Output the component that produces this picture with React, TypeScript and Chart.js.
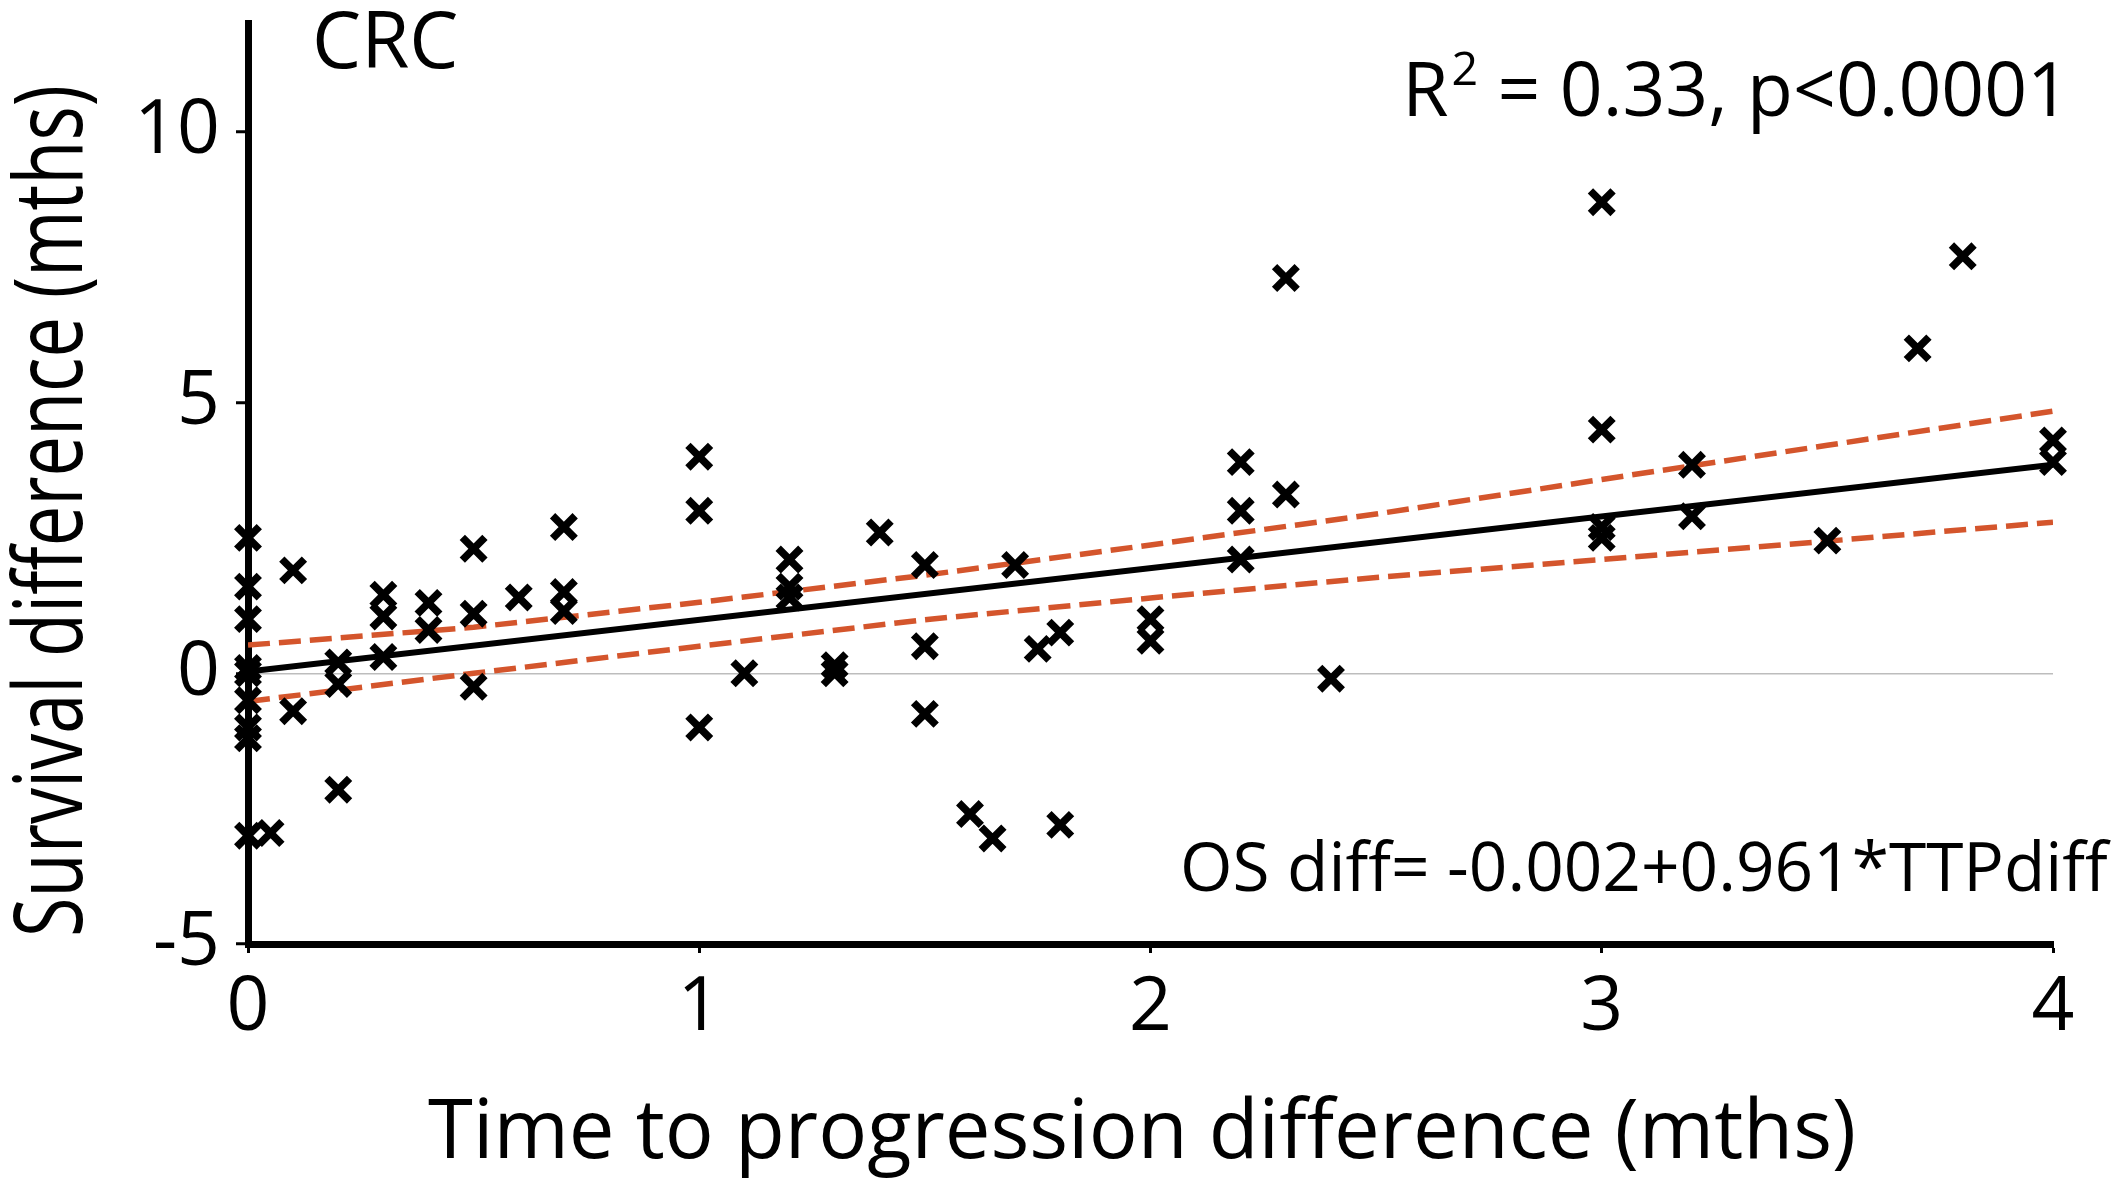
import React, { useEffect, useRef } from "react";
import { Chart, registerables } from "chart.js";

Chart.register(...registerables);

// ---- data ----
const ttpDiff = [
  0, 0, 0, 0, 0, 0, 0, 0, 0,
  0.05,
  0.1, 0.1,
  0.2, 0.2, 0.2,
  0.3, 0.3, 0.3,
  0.4, 0.4,
  0.5, 0.5, 0.5,
  0.6,
  0.7, 0.7, 0.7,
  1.0, 1.0, 1.0,
  1.1,
  1.2, 1.2, 1.2,
  1.3, 1.3,
  1.4,
  1.5, 1.5, 1.5,
  1.6, 1.65,
  1.7,
  1.75, 1.8, 1.8,
  2.0, 2.0,
  2.2, 2.2, 2.2,
  2.3, 2.3,
  2.4,
  3.0, 3.0, 3.0, 3.0,
  3.2, 3.2,
  3.5,
  3.7,
  3.8,
  4.0, 4.0,
];
const osDiff = [
  2.5, 1.6, 1.0, 0.1, 0.0, -0.5, -1.0, -1.2, -3.0,
  -2.95,
  1.9, -0.7,
  0.2, -0.2, -2.15,
  1.45, 1.05, 0.3,
  1.3, 0.8,
  2.3, 1.1, -0.25,
  1.4,
  2.7, 1.5, 1.15,
  4.0, 3.0, -1.0,
  0.0,
  2.1, 1.6, 1.4,
  0.15, 0.0,
  2.6,
  2.0, 0.5, -0.75,
  -2.6, -3.05,
  2.0,
  0.45, 0.75, -2.8,
  1.0, 0.6,
  3.9, 3.0, 2.1,
  7.3, 3.3,
  -0.1,
  8.7, 4.5, 2.7, 2.5,
  3.85, 2.9,
  2.45,
  6.0,
  7.7,
  4.3, 3.9,
];
const fitX = [0, 4];
const fitY = [0.03, 3.85];
const bandX = [0, 0.5, 1, 1.5, 2, 2.5, 3, 3.5, 4];
const bandUpper = [0.52, 0.85, 1.31, 1.81, 2.37, 2.94, 3.58, 4.21, 4.84];
const bandLower = [-0.52, 0.0, 0.5, 0.99, 1.39, 1.77, 2.1, 2.44, 2.79];
const xTicks = [0, 1, 2, 3, 4];
const yTicks = [-5, 0, 5, 10];
const X_MIN = 0;
const X_MAX = 4;
const Y_MIN = -5;
const Y_MAX = 12;

const panelLabel = "CRC";
const statsParts = ["R", "2", " = 0.33, p<0.0001"];
const equationLabel = "OS diff= -0.002+0.961*TTPdiff";
const xTitle = "Time to progression difference (mths)";
const yTitle = "Survival difference (mths)";

// ---- style ----
const FONT = "'Open Sans', 'Noto Sans', sans-serif";
const ORANGE = "#D4552C";
const W = 2112;
const H = 1178;

function fitSize(ctx: CanvasRenderingContext2D, text: string, width: number) {
  ctx.font = `100px ${FONT}`;
  return (100 * width) / ctx.measureText(text).width;
}

const textPlugin = {
  id: "texts",
  afterDraw(chart: any) {
    const ctx: CanvasRenderingContext2D = chart.ctx;
    ctx.save();
    ctx.fillStyle = "#000";
    ctx.textBaseline = "alphabetic";

    // Y title (rotated)
    const ys = fitSize(ctx, yTitle, 852);
    ctx.save();
    ctx.translate(82, 511);
    ctx.rotate(-Math.PI / 2);
    ctx.scale(1, 68 / (0.714 * ys));
    ctx.font = `${ys}px ${FONT}`;
    ctx.textAlign = "center";
    ctx.fillText(yTitle, 0, 0);
    ctx.restore();

    // X title
    const xs = fitSize(ctx, xTitle, 1428);
    ctx.font = `${xs}px ${FONT}`;
    ctx.textAlign = "center";
    ctx.fillText(xTitle, 1142, 1158);

    // Panel label
    ctx.font = `78px ${FONT}`;
    ctx.textAlign = "left";
    ctx.fillText(panelLabel, 312, 68);

    // R^2 statement, right-aligned
    const rs = 75;
    const sup = rs * 0.62;
    ctx.font = `${rs}px ${FONT}`;
    const w0 = ctx.measureText(statsParts[0]).width;
    const w2 = ctx.measureText(statsParts[2]).width;
    ctx.font = `${sup}px ${FONT}`;
    const w1 = ctx.measureText(statsParts[1]).width;
    let sx = 2070 - (w0 + w1 + 3 + w2);
    ctx.textAlign = "left";
    ctx.font = `${rs}px ${FONT}`;
    ctx.fillText(statsParts[0], sx, 116);
    sx += w0;
    ctx.font = `${sup}px ${FONT}`;
    ctx.fillText(statsParts[1], sx + 3, 116 - rs * 0.42);
    sx += w1 + 3;
    ctx.font = `${rs}px ${FONT}`;
    ctx.fillText(statsParts[2], sx, 116);

    // Equation
    const es = fitSize(ctx, equationLabel, 928);
    ctx.font = `${es}px ${FONT}`;
    ctx.textAlign = "left";
    ctx.fillText(equationLabel, 1180, 891);

    ctx.restore();
  },
};

export default function App() {
  const ref = useRef<HTMLCanvasElement>(null);

  useEffect(() => {
    const canvas = ref.current;
    if (!canvas) return;
    const points = ttpDiff.map((x, i) => ({ x, y: osDiff[i] }));
    const fit = fitX.map((x, i) => ({ x, y: fitY[i] }));
    const upper = bandX.map((x, i) => ({ x, y: bandUpper[i] }));
    const lower = bandX.map((x, i) => ({ x, y: bandLower[i] }));

    const chart = new Chart(canvas, {
      type: "scatter",
      data: {
        datasets: [
          {
            label: "Trials",
            data: points,
            pointStyle: "crossRot",
            pointRadius: 16,
            pointBorderWidth: 7.5,
            pointBorderColor: "#000",
            pointBackgroundColor: "#000",
            borderColor: "#000",
            backgroundColor: "#000",
            showLine: false,
            clip: false,
          } as any,
          {
            label: "Fit",
            data: fit,
            showLine: true,
            borderColor: "#000",
            borderWidth: 6,
            pointRadius: 0,
            tension: 0,
          } as any,
          {
            label: "Upper 95% CI",
            data: upper,
            showLine: true,
            borderColor: ORANGE,
            borderWidth: 5.5,
            borderDash: [22, 9],
            pointRadius: 0,
            tension: 0,
          } as any,
          {
            label: "Lower 95% CI",
            data: lower,
            showLine: true,
            borderColor: ORANGE,
            borderWidth: 5.5,
            borderDash: [22, 9],
            pointRadius: 0,
            tension: 0,
          } as any,
        ],
      },
      options: {
        responsive: false,
        animation: false,
        devicePixelRatio: 1,
        layout: { padding: { top: 19, right: 59, left: 0, bottom: 0 } },
        plugins: {
          legend: { display: false },
          tooltip: { enabled: false },
        },
        scales: {
          x: {
            type: "linear",
            min: X_MIN,
            max: X_MAX,
            afterFit: (s: any) => {
              s.height = H - 944;
              s.paddingLeft = 0;
              s.paddingRight = 0;
            },
            afterBuildTicks: (s: any) => {
              s.ticks = xTicks.map((v) => ({ value: v }));
            },
            border: { display: true, color: "#000", width: 7 },
            grid: {
              drawOnChartArea: false,
              drawTicks: true,
              tickLength: 9,
              tickWidth: 3,
              tickColor: "#000",
            },
            ticks: {
              color: "#000",
              padding: 11,
              font: { family: FONT, size: 75 },
              callback: (v: any) => String(v),
            },
          },
          y: {
            type: "linear",
            min: Y_MIN,
            max: Y_MAX,
            afterFit: (s: any) => {
              s.width = 248;
              s.paddingTop = 0;
              s.paddingBottom = 0;
            },
            afterBuildTicks: (s: any) => {
              s.ticks = yTicks.map((v) => ({ value: v }));
            },
            border: { display: true, color: "#000", width: 7 },
            grid: {
              drawOnChartArea: true,
              drawTicks: true,
              tickLength: 12,
              tickWidth: 3,
              tickColor: "#000",
              lineWidth: 1.5,
              color: (c: any) =>
                c.tick && c.tick.value === 0 ? "#bdbdbd" : "rgba(0,0,0,0)",
            },
            ticks: {
              color: "#000",
              padding: 16,
              font: { family: FONT, size: 75 },
              callback: (v: any) => String(v),
            },
          },
        },
      },
      plugins: [textPlugin],
    });
    return () => chart.destroy();
  }, []);

  return (
    <div
      style={{
        position: "fixed",
        left: 0,
        top: 0,
        width: W,
        height: H,
        background: "#fff",
      }}
    >
      <canvas
        ref={ref}
        width={W}
        height={H}
        style={{ display: "block", width: W, height: H }}
      />
    </div>
  );
}
